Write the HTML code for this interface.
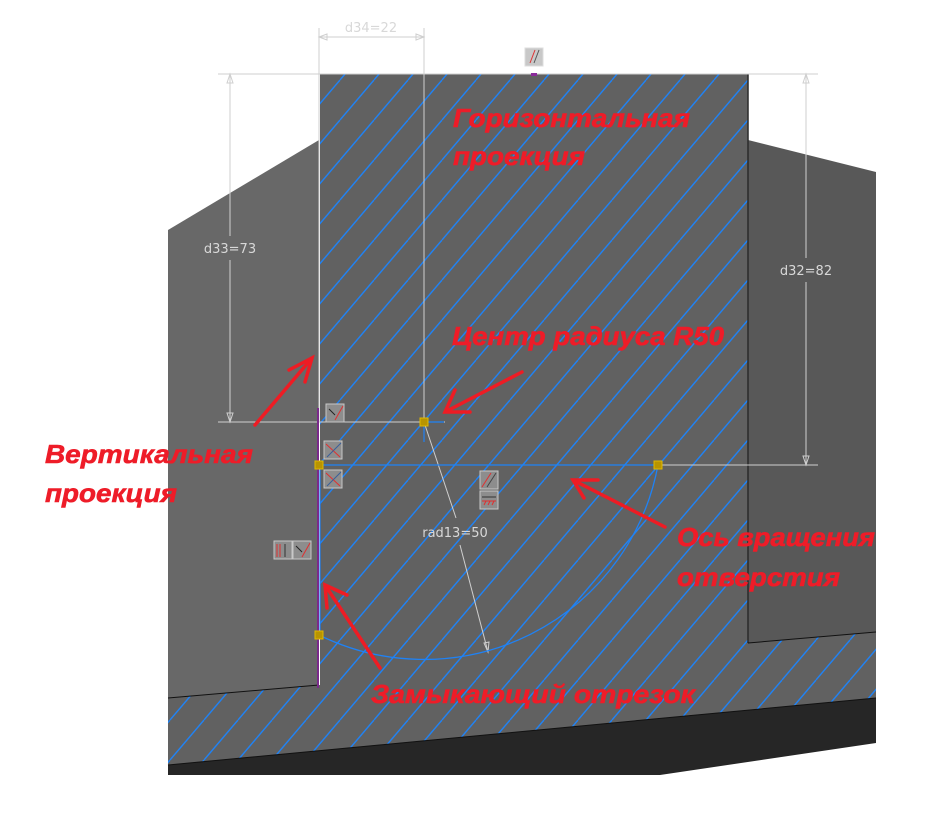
<!DOCTYPE html>
<html><head><meta charset="utf-8"><style>
html,body{margin:0;padding:0;background:#fff;}
svg{display:block;}
.dim{font-family:"DejaVu Sans","Liberation Sans",sans-serif;font-size:13px;fill:#d8d8d8;}
.red{font-family:"Liberation Sans","DejaVu Sans",sans-serif;font-weight:bold;font-style:italic;font-size:26px;fill:#ee1c28;}
</style></head><body>
<svg width="944" height="819" viewBox="0 0 944 819" xmlns="http://www.w3.org/2000/svg">
<defs>
<pattern id="h" patternUnits="userSpaceOnUse" width="34" height="40">
<line x1="-34" y1="40" x2="0" y2="0" stroke="#1f82f5" stroke-width="1.4"/>
<line x1="0" y1="40" x2="34" y2="0" stroke="#1f82f5" stroke-width="1.4"/>
<line x1="34" y1="40" x2="68" y2="0" stroke="#1f82f5" stroke-width="1.4"/>
</pattern>
</defs>
<rect width="944" height="819" fill="#fff"/>
<polygon points="168,765 876,698 876,743 660,775 168,775" fill="#262626"/>
<polygon points="168,698 320,685 320,74 748,74 748,643 876,632 876,698 168,765" fill="#616161"/>
<polygon points="168,698 320,685 320,74 748,74 748,643 876,632 876,698 168,765" fill="url(#h)"/>
<line x1="168" y1="765" x2="876" y2="698" stroke="#111" stroke-width="1"/>
<polygon points="168,230 319,140 319,685 168,698" fill="#686868"/>
<line x1="168" y1="698" x2="319" y2="685" stroke="#111" stroke-width="1"/>
<polygon points="748,140 876,172 876,632 748,643" fill="#585858"/>
<line x1="748" y1="74" x2="748" y2="643" stroke="#2a2a2a" stroke-width="1.5"/>
<line x1="748" y1="643" x2="876" y2="632" stroke="#111" stroke-width="1"/>

<g stroke="#cfcfcf" stroke-width="1" fill="none">
<line x1="218" y1="74" x2="818" y2="74"/>
<line x1="319" y1="28" x2="319" y2="422"/>
<line x1="424" y1="28" x2="424" y2="422"/>
<line x1="319" y1="37" x2="424" y2="37"/>
<line x1="230" y1="74" x2="230" y2="236"/>
<line x1="230" y1="260" x2="230" y2="422"/>
<line x1="218" y1="422" x2="445" y2="422"/>
<line x1="806" y1="74" x2="806" y2="258"/>
<line x1="806" y1="282" x2="806" y2="465"/>
<line x1="493" y1="465" x2="818" y2="465"/>
<line x1="424" y1="422" x2="456" y2="518"/>
<line x1="460" y1="545" x2="488" y2="652"/>
<path d="M319,37 l8,-3 v6 z M424,37 l-8,-3 v6 z M230,74 l-3,9 h6 z M230,422 l-3,-9 h6 z M806,74 l-3,9 h6 z M806,465 l-3,-9 h6 z M488,652 l-4,-9 l5,-1 z"/>
</g>
<text class="dim" x="371" y="32" text-anchor="middle">d34=22</text>
<text class="dim" x="230" y="253" text-anchor="middle">d33=73</text>
<text class="dim" x="806" y="275" text-anchor="middle">d32=82</text>
<text class="dim" x="455" y="537" text-anchor="middle">rad13=50</text>

<line x1="318" y1="408" x2="318" y2="688" stroke="#7a2a8a" stroke-width="2"/>
<line x1="320" y1="465" x2="320" y2="635" stroke="#1f82f5" stroke-width="1.2"/>
<line x1="319" y1="465" x2="658" y2="465" stroke="#1f82f5" stroke-width="1.2"/>
<line x1="424" y1="422" x2="444" y2="422" stroke="#1f82f5" stroke-width="1.2"/>
<line x1="424" y1="422" x2="424" y2="442" stroke="#1f82f5" stroke-width="1.2"/>
<path d="M319,635 A238,238 0 0 0 658,465" stroke="#1f82f5" stroke-width="1.3" fill="none"/>
<g fill="#b89400" stroke="#e0b800" stroke-width="1">
<rect x="420" y="418" width="8" height="8"/>
<rect x="315" y="461" width="8" height="8"/>
<rect x="654" y="461" width="8" height="8"/>
<rect x="315" y="631" width="8" height="8"/>
</g>
<rect x="531" y="73" width="6" height="3" fill="#8a2a9a"/>

<g fill="#8d8d8d" stroke="#c8c8c8" stroke-width="1">
<rect x="326" y="404" width="18" height="18"/>
<rect x="324" y="441" width="18" height="18"/>
<rect x="324" y="470" width="18" height="18"/>
<rect x="480" y="471" width="18" height="18"/>
<rect x="480" y="491" width="18" height="18"/>
<rect x="274" y="541" width="18" height="18"/>
<rect x="293" y="541" width="18" height="18"/>
<rect x="525" y="48" width="18" height="18" fill="#c8c8c8" stroke="#ddd"/>
</g>
<g stroke-width="1" fill="none">
<path d="M335,420 L343,406" stroke="#e03030"/><path d="M329,409 l6,6" stroke="#222"/>
<path d="M326,444 l14,13" stroke="#e03030"/><path d="M327,457 l14,-14" stroke="#3a5f9a"/>
<path d="M326,473 l14,13" stroke="#e03030"/><path d="M327,486 l14,-14" stroke="#3a5f9a"/>
<path d="M482,487 l9,-14" stroke="#e03030"/><path d="M487,487 l9,-14" stroke="#444"/>
<path d="M482,497 h14" stroke="#333"/><path d="M482,501 h14 M484,505 l2,-4 M488,505 l2,-4 M492,505 l2,-4" stroke="#e03030"/>
<path d="M280,544 v13 M277,544 v13" stroke="#e03030"/><path d="M285,544 v13" stroke="#333"/>
<path d="M302,557 L310,543" stroke="#e03030"/><path d="M296,546 l6,6" stroke="#222"/>
<path d="M530,63 l5,-13" stroke="#e03030"/><path d="M534,63 l5,-13" stroke="#555"/>
</g>

<g stroke="#ee1c24" stroke-width="3.5" fill="none" stroke-linecap="round">
<path d="M255,425 L312,358 M289,370 L312,358 L305,382"/>
<path d="M522,372 L445,412 M455,390 L445,412 L470,412"/>
<path d="M665,527 L573,480 M584,498 L573,480 L598,480"/>
<path d="M380,668 L325,585 M327,608 L325,585 L347,595"/>
</g>

<g stroke="#ee1c28" stroke-width="0.6">
<text class="red" x="453" y="127" textLength="237" lengthAdjust="spacingAndGlyphs">Горизонтальная</text>
<text class="red" x="453" y="165" textLength="132" lengthAdjust="spacingAndGlyphs">проекция</text>
<text class="red" x="452" y="345" textLength="272" lengthAdjust="spacingAndGlyphs">Центр радиуса R50</text>
<text class="red" x="45" y="463" textLength="208" lengthAdjust="spacingAndGlyphs">Вертикальная</text>
<text class="red" x="45" y="502" textLength="132" lengthAdjust="spacingAndGlyphs">проекция</text>
<text class="red" x="677" y="546" textLength="198" lengthAdjust="spacingAndGlyphs">Ось вращения</text>
<text class="red" x="677" y="586" textLength="163" lengthAdjust="spacingAndGlyphs">отверстия</text>
<text class="red" x="371" y="703" textLength="324" lengthAdjust="spacingAndGlyphs">Замыкающий отрезок</text>
</g>
</svg>
</body></html>
